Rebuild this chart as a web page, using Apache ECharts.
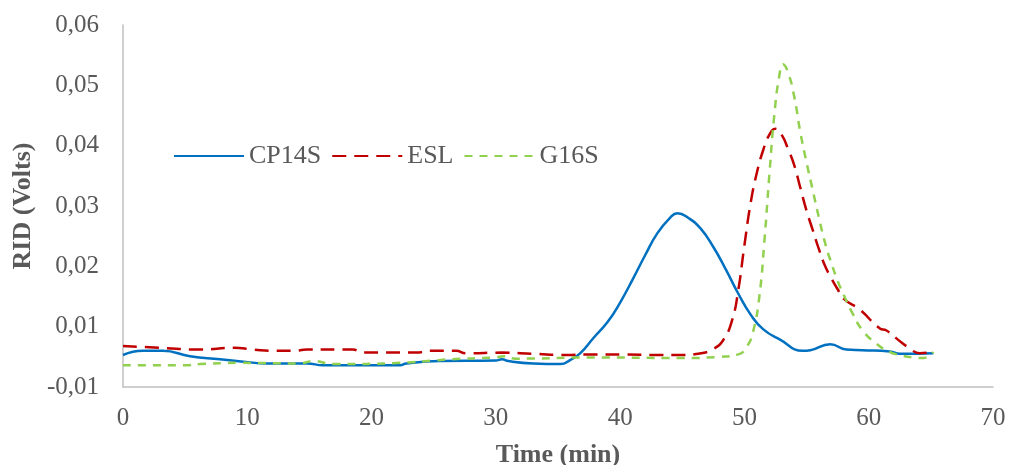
<!DOCTYPE html>
<html>
<head>
<meta charset="utf-8">
<script src="https://cdn.jsdelivr.net/npm/echarts@6/dist/echarts.min.js"></script>
<style>html,body{margin:0;padding:0;background:#fff;}#c{width:1009px;height:465px;}</style>
</head>
<body>
<div id="c"></div>
<script>
const seriesNames = ['CP14S', 'ESL', 'G16S'];
const xTicks = [0, 10, 20, 30, 40, 50, 60, 70];
const yTickLabels = ['-0,01', '0,01', '0,02', '0,03', '0,04', '0,05', '0,06'];

const timeCP14S = [0,1.6,3.2,5.4,7.8,9.7,11.6,14.8,16.1,22.3,22.8,25.5,30,30.5,31,33,35.2,36,36.8,37.8,39,40,41,42,43,44,44.6,45.5,46.5,47.5,48.5,49.5,50.5,51.5,52.9,54.7,55.3,56.9,58.2,59.5,61.7,62.5,65.2];
const valCP14S = [0.0053,0.0060,0.0060,0.0051,0.0046,0.0042,0.0039,0.0039,0.0036,0.0036,0.0039,0.0043,0.0044,0.0046,0.0043,0.0039,0.0038,0.0045,0.0056,0.0080,0.0108,0.0140,0.0178,0.0218,0.0255,0.0280,0.0288,0.0280,0.0262,0.0232,0.0195,0.0155,0.0120,0.0096,0.0078,0.0060,0.0061,0.0071,0.0062,0.0061,0.0059,0.0055,0.0056];

const timeESL = [0,3,6.2,8.9,10.5,12.1,13.7,14.8,18.5,19.3,23.6,24.7,26.8,27.6,30.5,33,35.7,37.5,40.3,43,44.8,46.5,47.5,48.3,49,49.5,50,50.5,51,51.5,52,52.5,53,53.5,54,54.5,55,55.5,56,56.5,57,57.5,58,59.3,60.9,61.4,62.2,63.3,64.1,65.2];
const valESL = [0.0068,0.0065,0.0062,0.0065,0.0062,0.0060,0.0060,0.0062,0.0062,0.0057,0.0057,0.0060,0.0060,0.0056,0.0057,0.0055,0.0053,0.0054,0.0054,0.0053,0.0053,0.0056,0.0063,0.0078,0.0110,0.0160,0.0235,0.0305,0.0355,0.0392,0.0418,0.0428,0.0418,0.0395,0.0368,0.0330,0.0292,0.0260,0.0228,0.0200,0.0180,0.0162,0.0146,0.0128,0.0097,0.0094,0.0081,0.0064,0.0056,0.0058];

const timeG16S = [0,5,6.2,9.4,14.2,15.3,16.9,22.3,25,26.3,30,30.6,31.6,37.8,44.8,48,49.5,50.2,50.7,51.2,51.6,52,52.4,52.8,53.1,53.5,54,54.5,55,55.5,56,56.5,57,57.5,58,58.7,59.5,60.6,61.7,62.5,63.6,64.4,65.2];
const valG16S = [0.0036,0.0036,0.0038,0.0040,0.0039,0.0043,0.0038,0.0040,0.0044,0.0046,0.0049,0.0051,0.0047,0.0049,0.0048,0.0050,0.0054,0.0067,0.0092,0.0150,0.0240,0.0350,0.0450,0.0515,0.0535,0.0522,0.0482,0.0422,0.0372,0.0326,0.0280,0.0238,0.0205,0.0176,0.0152,0.0122,0.0094,0.0072,0.0058,0.0053,0.0049,0.0048,0.0058];

function pairs(t, v) { return t.map((x, i) => [x, v[i]]); }

const FONT = 'Liberation Serif';
const GREY = '#595959';
const chart = echarts.init(document.getElementById('c'), null, {renderer: 'canvas'});
const common = {type: 'line', symbol: 'none', showSymbol: false, smooth: 0.5};
chart.setOption({
  animation: false,
  backgroundColor: '#fff',
  grid: {left: 123, right: 16, top: 25, bottom: 78, containLabel: false, outerBoundsMode: 'none'},
  legend: {
    left: 168, top: 138,
    itemWidth: 70, itemHeight: 28, itemGap: 10,
    itemStyle: {opacity: 0, borderWidth: 0},
    textStyle: {fontFamily: FONT, fontSize: 26, color: GREY},
    data: seriesNames
  },
  xAxis: {
    type: 'value', min: xTicks[0], max: xTicks[xTicks.length - 1], interval: 10,
    name: 'Time (min)', nameLocation: 'middle', nameGap: 55,
    nameTextStyle: {fontFamily: FONT, fontSize: 26, fontWeight: 'bold', color: GREY},
    axisLine: {show: true, lineStyle: {color: '#bfbfbf', width: 1.5}},
    axisTick: {show: false},
    splitLine: {show: false},
    axisLabel: {fontFamily: FONT, fontSize: 25, color: GREY, margin: 19}
  },
  yAxis: {
    type: 'value', min: 0, max: 0.06, interval: 0.01,
    name: 'RID (Volts)', nameLocation: 'middle', nameGap: 86,
    nameTextStyle: {fontFamily: FONT, fontSize: 26, fontWeight: 'bold', color: GREY},
    axisLine: {show: true, lineStyle: {color: '#bfbfbf', width: 1.5}},
    axisTick: {show: false},
    splitLine: {show: false},
    axisLabel: {
      fontFamily: FONT, fontSize: 25, color: GREY, margin: 24,
      formatter: v => yTickLabels[Math.round(v / 0.01)]
    }
  },
  series: [
    Object.assign({name: seriesNames[0], data: pairs(timeCP14S, valCP14S),
     lineStyle: {color: '#0070C0', width: 2.5}, itemStyle: {color: '#0070C0'}}, common),
    Object.assign({name: seriesNames[1], data: pairs(timeESL, valESL),
     lineStyle: {color: '#C00000', width: 2.5, type: [14, 8]}, itemStyle: {color: '#C00000'}}, common),
    Object.assign({name: seriesNames[2], data: pairs(timeG16S, valG16S),
     lineStyle: {color: '#92D050', width: 2.5, type: [8, 7]}, itemStyle: {color: '#92D050'}}, common)
  ]
});
</script>
</body>
</html>
